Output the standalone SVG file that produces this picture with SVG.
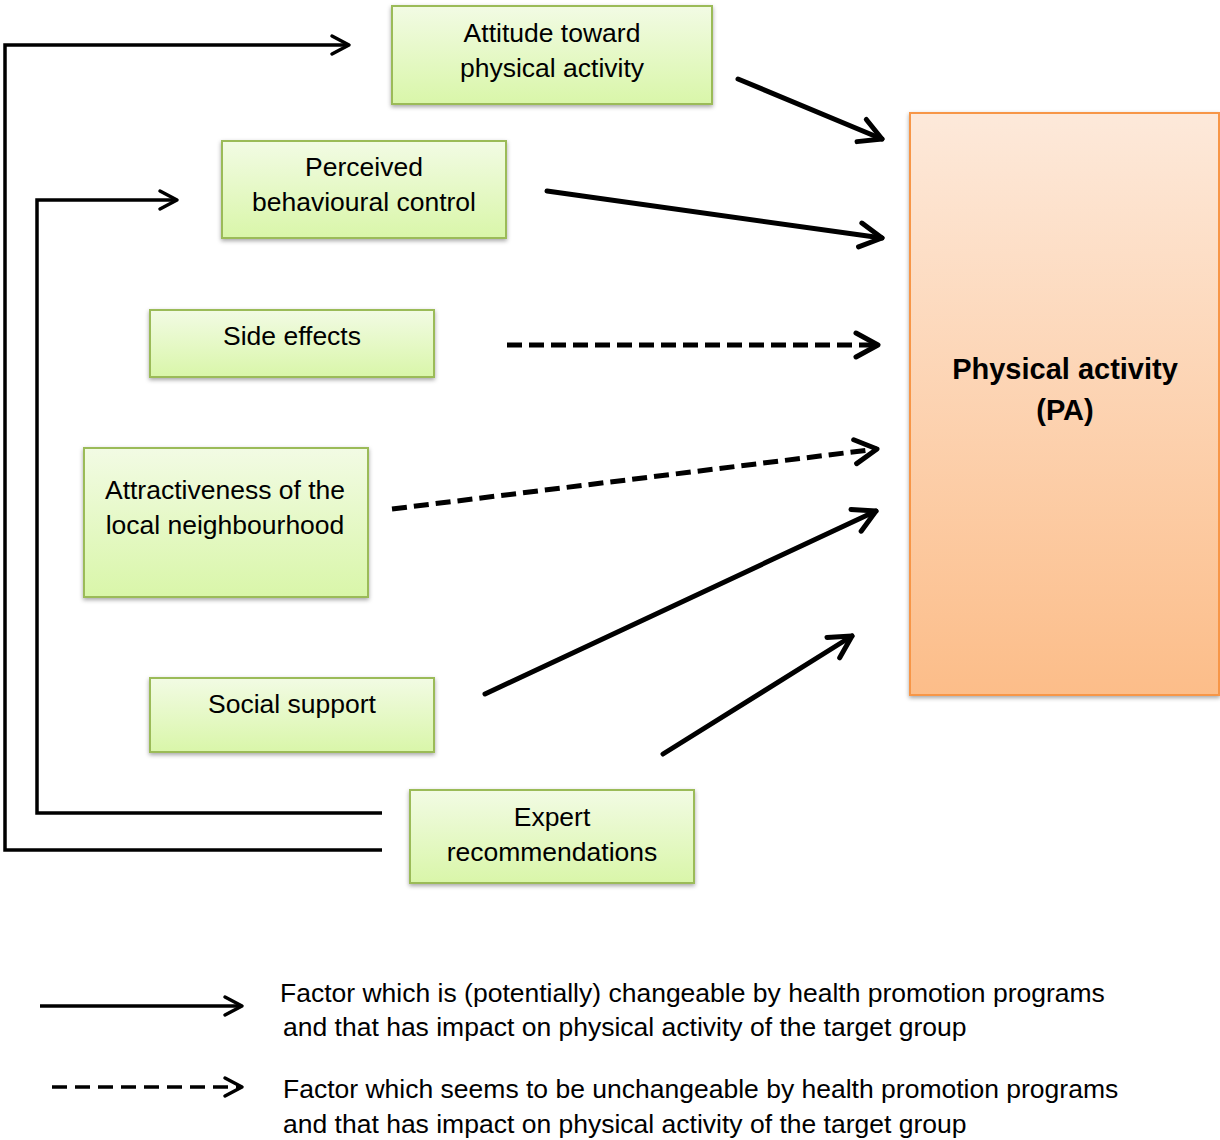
<svg xmlns="http://www.w3.org/2000/svg" width="1220" height="1140" viewBox="0 0 1220 1140">
<style>
.box{fill:url(#g);stroke:#9bbb59;stroke-width:2;filter:url(#sh)}
.pa{fill:url(#o);stroke:#f79646;stroke-width:2;filter:url(#sh)}
text{font-family:"Liberation Sans",Arial,sans-serif;font-size:26.5px;fill:#000}
.c{text-anchor:middle}
.b{font-weight:bold;font-size:29px}
.m{fill:none;stroke:#000;stroke-width:5;stroke-linecap:round}
.t{fill:none;stroke:#000;stroke-width:3.5}
.d{stroke-dasharray:15 7;stroke-linecap:butt}
.dl{stroke-dasharray:15 8}
</style>
<defs>
<linearGradient id="g" x1="0" y1="0" x2="0" y2="1"><stop offset="0" stop-color="#f2fbe4"/><stop offset="1" stop-color="#d9f6a9"/></linearGradient>
<linearGradient id="o" x1="0" y1="0" x2="0" y2="1"><stop offset="0" stop-color="#fde9da"/><stop offset="1" stop-color="#fcbd89"/></linearGradient>
<filter id="sh" x="-10%" y="-10%" width="120%" height="130%"><feDropShadow dx="0" dy="2" stdDeviation="2" flood-color="#000" flood-opacity="0.35"/></filter>
<marker id="ah" markerUnits="userSpaceOnUse" markerWidth="40" markerHeight="40" viewBox="-30 -20 40 40" refX="0" refY="0" orient="auto"><path d="M-22,-12 L0,0 L-22,12" fill="none" stroke="#000" stroke-width="5" stroke-linecap="round" stroke-linejoin="round"/></marker>
<marker id="at" markerUnits="userSpaceOnUse" markerWidth="40" markerHeight="40" viewBox="-30 -20 40 40" refX="0" refY="0" orient="auto"><path d="M-17,-9 L0,0 L-17,9" fill="none" stroke="#000" stroke-width="3.5" stroke-linecap="round" stroke-linejoin="round"/></marker>
</defs>
<rect width="1220" height="1140" fill="#fff"/>
<g id="pa"><rect class="pa" x="910" y="113" width="309" height="582"/><text class="c b" x="1065" y="379">Physical activity</text><text class="c b" x="1065" y="420">(PA)</text></g>
<g id="attitude"><rect class="box" x="392" y="6" width="320" height="98"/><text class="c" x="552" y="42">Attitude toward</text><text class="c" x="552" y="77">physical activity</text></g>
<g id="pbc"><rect class="box" x="222" y="141" width="284" height="97"/><text class="c" x="364" y="176">Perceived</text><text class="c" x="364" y="211">behavioural control</text></g>
<g id="side"><rect class="box" x="150" y="310" width="284" height="67"/><text class="c" x="292" y="345">Side effects</text></g>
<g id="attract"><rect class="box" x="84" y="448" width="284" height="149"/><text class="c" x="225" y="499">Attractiveness of the</text><text class="c" x="225" y="534">local neighbourhood</text></g>
<g id="social"><rect class="box" x="150" y="678" width="284" height="74"/><text class="c" x="292" y="713">Social support</text></g>
<g id="expert"><rect class="box" x="410" y="790" width="284" height="93"/><text class="c" x="552" y="826">Expert</text><text class="c" x="552" y="861">recommendations</text></g>
<g id="connectors">
<line class="m" x1="738" y1="79" x2="882" y2="139" marker-end="url(#ah)"/>
<line class="m" x1="547" y1="191" x2="882" y2="238" marker-end="url(#ah)"/>
<line class="m d" x1="507" y1="345" x2="878" y2="345" marker-end="url(#ah)"/>
<line class="m d" x1="392" y1="509" x2="877" y2="449" marker-end="url(#ah)"/>
<line class="m" x1="485" y1="694" x2="876" y2="511" marker-end="url(#ah)"/>
<line class="m" x1="663" y1="754" x2="852" y2="636" marker-end="url(#ah)"/>
<polyline class="t" points="382,850 5,850 5,45 349,45" marker-end="url(#at)"/>
<polyline class="t" points="382,813 37,813 37,200 177,200" marker-end="url(#at)"/>
</g>
<g id="legend">
<line class="t" x1="40" y1="1006" x2="242" y2="1006" marker-end="url(#at)"/>
<line class="t dl" x1="52" y1="1087" x2="242" y2="1087" marker-end="url(#at)"/>
<text x="280" y="1002">Factor which is (potentially) changeable by health promotion programs</text>
<text x="283" y="1036">and that has impact on physical activity of the target group</text>
<text x="283" y="1098">Factor which seems to be unchangeable by health promotion programs</text>
<text x="283" y="1133">and that has impact on physical activity of the target group</text>
</g>
</svg>
